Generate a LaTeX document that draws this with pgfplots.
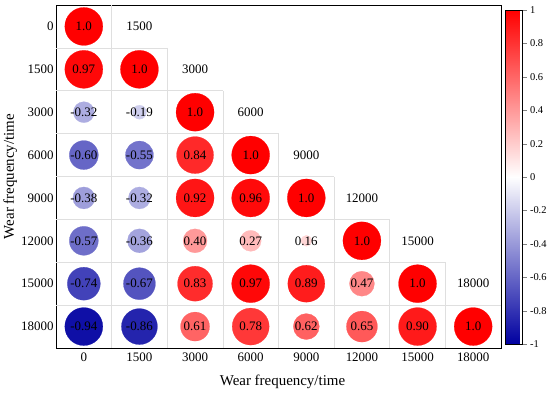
\documentclass[border=0pt]{standalone}
\usepackage{pgfplots}
\usepackage{pgfplotstable}
\pgfplotsset{compat=1.18}
\usepackage{fontspec}
\setmainfont{Liberation Serif}
\pgfplotsset{/pgf/number format/assume math mode=true}

\pgfplotstableread{
x y r d lab
0 0 1.00 38 1.0
0 1 0.97 38 0.97
1 1 1.00 38 1.0
0 2 -0.32 21 -0.32
1 2 -0.19 14 -0.19
2 2 1.00 38 1.0
0 3 -0.60 29 -0.60
1 3 -0.55 28 -0.55
2 3 0.84 37 0.84
3 3 1.00 38 1.0
0 4 -0.38 22 -0.38
1 4 -0.32 22 -0.32
2 4 0.92 38 0.92
3 4 0.96 38 0.96
4 4 1.00 38 1.0
0 5 -0.57 29 -0.57
1 5 -0.36 24 -0.36
2 5 0.40 24 0.40
3 5 0.27 21 0.27
4 5 0.16 11 0.16
5 5 1.00 38 1.0
0 6 -0.74 33 -0.74
1 6 -0.67 32 -0.67
2 6 0.83 35 0.83
3 6 0.97 38 0.97
4 6 0.89 37 0.89
5 6 0.47 25 0.47
6 6 1.00 38 1.0
0 7 -0.94 38 -0.94
1 7 -0.86 36 -0.86
2 7 0.61 29 0.61
3 7 0.78 37 0.78
4 7 0.62 26 0.62
5 7 0.65 31 0.65
6 7 0.90 38 0.90
7 7 1.00 38 1.0
}\corr

\pgfplotstableread{
x y lab
1 0 1500
2 1 3000
3 2 6000
4 3 9000
5 4 12000
6 5 15000
7 6 18000
}\heads

\begin{document}
\begin{tikzpicture}[x=1bp,y=1bp]
\path[use as bounding box] (-56bp,-45bp) rectangle (494bp,348bp);
\begin{axis}[
  at={(0,0)}, anchor=south west,
  scale only axis, width=445bp, height=343bp,
  xmin=-0.5, xmax=7.5, ymin=-0.5, ymax=7.5, y dir=reverse,
  xtick={0,...,7}, ytick={0,...,7},
  xticklabels={0,1500,3000,6000,9000,12000,15000,18000},
  yticklabels={0,1500,3000,6000,9000,12000,15000,18000},
  major tick length=0pt,
  tick label style={font=\fontsize{13}{15}\selectfont},
  xticklabel style={yshift=-1.5bp},
  yticklabel style={xshift=1bp},
  axis line style={line width=0.8bp},
  xlabel={Wear frequency/time}, ylabel={Wear frequency/time},
  label style={font=\fontsize{15}{18}\selectfont},
  xlabel style={at={(axis description cs:0.509,-0.099)}, anchor=center},
  ylabel style={at={(axis description cs:-0.103,0.5)}, anchor=center},
  colormap={bwr}{rgb255=(0,0,160) rgb255=(255,255,255) rgb255=(255,0,0)},
  point meta min=-1, point meta max=1,
  colorbar,
  colorbar style={
    scale only axis, width=17bp, height=334bp,
    at={(parent axis.north east)}, anchor=north west, xshift=-4bp, yshift=-5bp,
    ytick={-1,-0.8,-0.6,-0.4,-0.2,0,0.2,0.4,0.6,0.8,1},
    yticklabels={-1,-0.8,-0.6,-0.4,-0.2,0,0.2,0.4,0.6,0.8,1},
    yticklabel style={font=\fontsize{10.5}{12}\selectfont},
    major tick length=4bp, tick align=outside, ytick pos=right,
    axis line style={line width=0.6bp},
  },
  clip=false,
]
% grid of the lower triangle
\addplot[gray!25, line width=0.6bp, forget plot] coordinates {(-0.5,0.5) (1.5,0.5)};
\addplot[gray!25, line width=0.6bp, forget plot] coordinates {(-0.5,1.5) (2.5,1.5)};
\addplot[gray!25, line width=0.6bp, forget plot] coordinates {(-0.5,2.5) (3.5,2.5)};
\addplot[gray!25, line width=0.6bp, forget plot] coordinates {(-0.5,3.5) (4.5,3.5)};
\addplot[gray!25, line width=0.6bp, forget plot] coordinates {(-0.5,4.5) (5.5,4.5)};
\addplot[gray!25, line width=0.6bp, forget plot] coordinates {(-0.5,5.5) (6.5,5.5)};
\addplot[gray!25, line width=0.6bp, forget plot] coordinates {(-0.5,6.5) (7.5,6.5)};
\addplot[gray!25, line width=0.6bp, forget plot] coordinates {(0.5,-0.5) (0.5,7.5)};
\addplot[gray!25, line width=0.6bp, forget plot] coordinates {(1.5,0.5) (1.5,7.5)};
\addplot[gray!25, line width=0.6bp, forget plot] coordinates {(2.5,1.5) (2.5,7.5)};
\addplot[gray!25, line width=0.6bp, forget plot] coordinates {(3.5,2.5) (3.5,7.5)};
\addplot[gray!25, line width=0.6bp, forget plot] coordinates {(4.5,3.5) (4.5,7.5)};
\addplot[gray!25, line width=0.6bp, forget plot] coordinates {(5.5,4.5) (5.5,7.5)};
\addplot[gray!25, line width=0.6bp, forget plot] coordinates {(6.5,5.5) (6.5,7.5)};
% circles
\addplot[scatter, only marks, mark=*,
  scatter/use mapped color={draw=mapped color, fill=mapped color},
  mark options={line width=0.2bp},
  point meta=explicit,
  visualization depends on={\thisrow{d}/2 \as \rad},
  scatter/@pre marker code/.append style={/tikz/mark size=\rad bp},
] table[x=x, y=y, meta=r] {\corr};
% values
\addplot[draw=none, mark=none, nodes near coords, point meta=explicit symbolic,
  every node near coord/.append style={anchor=center, inner sep=0pt, text=black, font=\fontsize{13}{15}\selectfont},
] table[x=x, y=y, meta=lab] {\corr};
% headers
\addplot[draw=none, mark=none, nodes near coords, point meta=explicit symbolic,
  every node near coord/.append style={anchor=center, inner sep=0pt, text=black, font=\fontsize{13}{15}\selectfont},
] table[x=x, y=y, meta=lab] {\heads};
\end{axis}
\end{tikzpicture}
\end{document}
